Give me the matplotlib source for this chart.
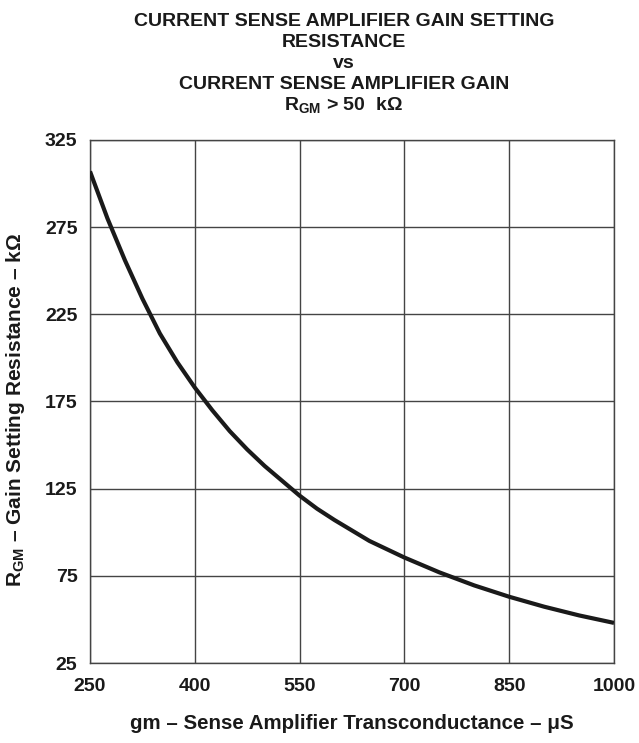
import matplotlib
matplotlib.use("Agg")
import matplotlib.pyplot as plt

plt.rcParams['font.family'] = ['Liberation Sans', 'DejaVu Sans']
plt.rcParams['font.weight'] = 'bold'
plt.rcParams['mathtext.fontset'] = 'custom'
plt.rcParams['mathtext.rm'] = 'Liberation Sans:bold'
plt.rcParams['mathtext.it'] = 'Liberation Sans:bold'
plt.rcParams['mathtext.bf'] = 'Liberation Sans:bold'

# data
gm_uS = [250, 275, 300, 325, 350, 375, 400, 425, 450, 475, 500, 525, 550, 575, 600,
         650, 700, 750, 800, 850, 900, 950, 1000]
rgm_kohm = [307, 280, 256, 234, 214, 197.5, 183, 170, 158, 147.5, 138, 129.5, 121, 113.5, 107,
            95, 85.5, 77, 69.5, 63, 57.3, 52.3, 48]

xticks = [250, 400, 550, 700, 850, 1000]
yticks = [25, 75, 125, 175, 225, 275, 325]

title_lines = ["CURRENT SENSE AMPLIFIER GAIN SETTING", "RESISTANCE", "vs",
               "CURRENT SENSE AMPLIFIER GAIN", "R$_{\\mathrm{GM}}$ > 50  k\u03a9"]
xlabel = "gm \u2013 Sense Amplifier Transconductance \u2013 \u03bcS"
ylabel = "R$_{\\mathrm{GM}}$ \u2013 Gain Setting Resistance \u2013 k\u03a9"

W, H = 639, 743
ink = '#1a1a1a'
fig = plt.figure(figsize=(W / 100, H / 100), dpi=100)
ax = fig.add_axes([90 / W, 1 - 663 / H, (614 - 90) / W, (663 - 140) / H])

ax.plot(gm_uS, rgm_kohm, color=ink, lw=3.0, solid_capstyle='butt',
        solid_joinstyle='round', zorder=3)

ax.set_xlim(250, 1000)
ax.set_ylim(25, 325)
ax.set_xticks(xticks)
ax.set_yticks(yticks)
ax.set_xticklabels([str(v) for v in xticks], fontsize=14, fontweight='bold', color=ink)
ax.set_yticklabels([str(v) for v in yticks], fontsize=14, fontweight='bold', color=ink)
ax.tick_params(axis='x', length=0, pad=11)
ax.tick_params(axis='y', length=0, pad=9)
ax.grid(True, color='#444444', lw=1.0)
for s in ax.spines.values():
    s.set_color('#444444')
    s.set_linewidth(1.0)

fig.text(352 / W, 1 - 729 / H, xlabel, ha='center', va='baseline',
         fontsize=14.8, fontweight='bold', color=ink)
fig.text(15.5 / W, 1 - 410 / H, ylabel, ha='center', va='center', rotation=90,
         fontsize=15, fontweight='bold', color=ink)

baselines = [26, 46.7, 68.3, 89.3, 110]
for line, yy in zip(title_lines, baselines):
    fig.text(344 / W, 1 - yy / H, line, ha='center', va='baseline',
             fontsize=14, fontweight='bold', color=ink)

fig.savefig("out.png", dpi=100)
